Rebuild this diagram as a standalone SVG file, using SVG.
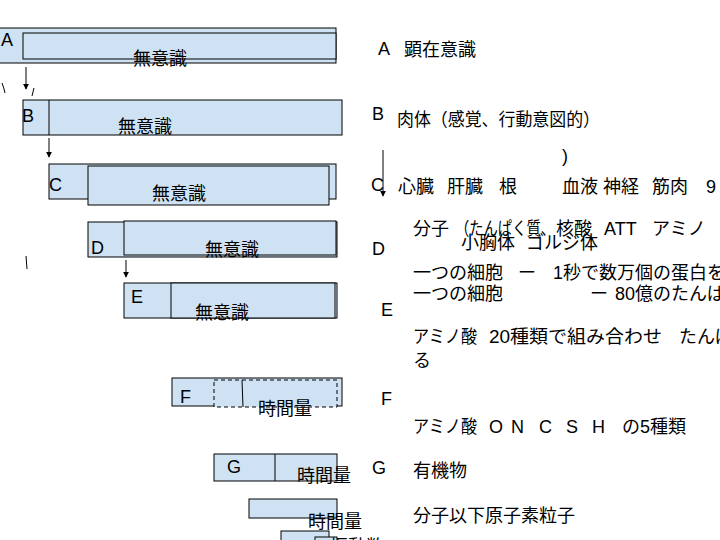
<svg xmlns="http://www.w3.org/2000/svg" width="720" height="540" viewBox="0 0 720 540">
<defs>
<style>
.b{fill:#cfe2f3;stroke:#000;stroke-width:1}
.d{fill:#cfe2f3;stroke:#000;stroke-width:1;stroke-dasharray:4 3}
.t{font-family:"Liberation Sans","Noto Sans CJK JP",sans-serif;font-size:18px;fill:#000}
.c{fill:none;stroke:#000;stroke-width:1}
</style>
<marker id="ah" viewBox="0 0 8 8" refX="7" refY="4" markerWidth="6" markerHeight="6" orient="auto" markerUnits="userSpaceOnUse">
<path d="M0,0 L8,4 L0,8 z" fill="#000"/>
</marker>
</defs>
<rect width="720" height="540" fill="#fff"/>

<g id="nodeA">
<rect class="b" x="-10" y="28" width="346" height="35"/>
<rect class="b" x="23" y="33" width="313" height="26"/>
<text class="t" x="1" y="46">A</text>
<text class="t" x="133" y="65">無意識</text>
</g>

<g id="nodeB">
<rect class="b" x="23" y="100" width="319" height="35"/>
<line class="c" x1="49" y1="100" x2="49" y2="135"/>
<text class="t" x="22" y="122">B</text>
<text class="t" x="118" y="133">無意識</text>
</g>

<g id="nodeC">
<rect class="b" x="49" y="164" width="287" height="35"/>
<rect class="b" x="88" y="166" width="241" height="39"/>
<text class="t" x="49" y="191">C</text>
<text class="t" x="152" y="200">無意識</text>
</g>

<g id="nodeD">
<rect class="b" x="88" y="222" width="249" height="35"/>
<rect class="b" x="124" y="221" width="212" height="34"/>
<text class="t" x="91" y="254">D</text>
<text class="t" x="205" y="256">無意識</text>
</g>

<g id="nodeE">
<rect class="b" x="124" y="283" width="213" height="35"/>
<rect class="b" x="171" y="283" width="164" height="35"/>
<text class="t" x="131" y="303">E</text>
<text class="t" x="195" y="319">無意識</text>
</g>

<g id="nodeF">
<rect class="b" x="172" y="378" width="170" height="28"/>
<rect class="d" x="214" y="380" width="123" height="27"/>
<line class="c" x1="242" y1="380" x2="243" y2="407"/>
<text class="t" x="180" y="403">F</text>
<text class="t" x="258" y="415">時間量</text>
</g>

<g id="nodeG">
<rect class="b" x="214" y="454" width="123" height="27"/>
<line class="c" x1="275" y1="454" x2="275" y2="481"/>
<text class="t" x="227" y="473">G</text>
<text class="t" x="297" y="482">時間量</text>
</g>

<g id="nodeH">
<rect class="b" x="249" y="499" width="88" height="19"/>
<text class="t" x="308" y="528">時間量</text>
</g>

<g id="nodeI">
<rect class="b" x="281" y="531" width="48" height="20"/>
<rect class="b" x="315" y="537" width="22" height="20"/>
<text class="t" x="330" y="553">振動数</text>
</g>

<g id="connectors">
<line class="c" x1="26" y1="67" x2="26" y2="89" marker-end="url(#ah)"/>
<line class="c" x1="49" y1="138" x2="49" y2="157" marker-end="url(#ah)"/>
<line class="c" x1="126" y1="260" x2="126" y2="277" marker-end="url(#ah)"/>
<line class="c" x1="383" y1="150" x2="383" y2="196" marker-end="url(#ah)"/>
<path class="c" d="M2,83 Q4,88 5,93"/>
<path class="c" d="M34,88 L32,96"/>
<path class="c" d="M26,256 L27,269"/>
</g>

<g id="labels">
<text class="t" x="378" y="55">A</text>
<text class="t" x="404" y="56">顕在意識</text>
<text class="t" x="372" y="120">B</text>
<text class="t" x="397" y="126" textLength="203" lengthAdjust="spacingAndGlyphs">肉体（感覚、行動意図的）</text>
<text class="t" x="562" y="162">)</text>
<text class="t" x="371" y="191">C</text>
<text class="t" y="193"><tspan x="398">心臓</tspan><tspan x="447">肝臓</tspan><tspan x="499">根</tspan><tspan x="562">血液</tspan><tspan x="603">神経</tspan><tspan x="652">筋肉</tspan><tspan x="706">9</tspan></text>
<text class="t" x="413" y="235">分子</text>
<text class="t" x="455" y="235" textLength="100" lengthAdjust="spacingAndGlyphs">（たんぱく質、</text>
<text class="t" x="556" y="235">核酸</text>
<text class="t" x="604" y="235">ATT</text>
<text class="t" x="652" y="235">アミノ</text>
<text class="t" x="461" y="249">小胸体</text>
<text class="t" x="526" y="249">ゴルジ体</text>
<text class="t" x="372" y="255">D</text>
<text class="t" y="279"><tspan x="413">一つの細胞</tspan><tspan x="518">ー</tspan><tspan x="553">1秒で数万個の蛋白を</tspan></text>
<text class="t" y="300"><tspan x="413">一つの細胞</tspan><tspan x="590">ー</tspan><tspan x="615">80億のたんぱく質</tspan></text>
<text class="t" x="381" y="316">E</text>
<text class="t" x="413" y="343" textLength="64" lengthAdjust="spacingAndGlyphs">アミノ酸</text>
<text class="t" x="489" y="343" textLength="173" lengthAdjust="spacingAndGlyphs">20種類で組み合わせ</text>
<text class="t" x="679" y="343">たんぱく質</text>
<text class="t" x="413" y="367">る</text>
<text class="t" x="381" y="405">F</text>
<text class="t" x="413" y="433" textLength="64" lengthAdjust="spacingAndGlyphs">アミノ酸</text>
<text class="t" y="433"><tspan x="489">O</tspan><tspan x="511">N</tspan><tspan x="539">C</tspan><tspan x="566">S</tspan><tspan x="592">H</tspan><tspan x="622">の5種類</tspan></text>
<text class="t" x="372" y="474">G</text>
<text class="t" x="413" y="477">有機物</text>
<text class="t" x="413" y="522">分子以下原子素粒子</text>
</g>
</svg>
